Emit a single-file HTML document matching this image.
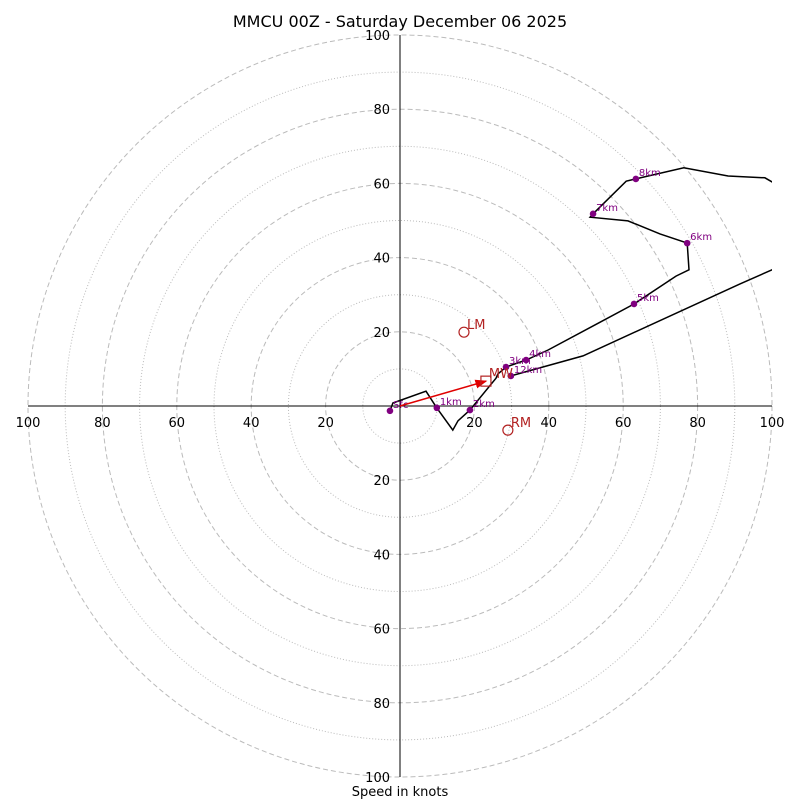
<!DOCTYPE html>
<html><head><meta charset="utf-8"><style>
body{margin:0;background:#fff}
svg{display:block;font-family:"DejaVu Sans","Liberation Sans",sans-serif}
</style></head><body>
<svg id="c" width="800" height="800" viewBox="0 0 800 800">
<defs><clipPath id="clip"><rect x="28" y="35" width="744" height="742"/></clipPath>
<marker id="ah" markerWidth="8" markerHeight="8" refX="7" refY="4" orient="auto"><path d="M0,1 L8,4 L0,7 z" fill="#e00000"/></marker></defs>
<text x="400" y="27" text-anchor="middle" font-size="16">MMCU 00Z - Saturday December 06 2025</text>
<g id="rings"></g><g id="axes"></g>
<g id="plot" clip-path="url(#clip)"></g>
<text x="400" y="796" text-anchor="middle" font-size="13">Speed in knots</text>
</svg>
<script>
const ringValues=[10,20,30,40,50,60,70,80,90,100];
const tickLabels=[20,40,60,80,100];
const hodoU=[-2.7,-1.9,7.0,9.9,14.2,15.6,18.8,25.8,26.3,28.5,33.9,39.8,53.8,62.9,74.2,77.7,77.2,69.9,61.3,51.1,51.9,60.8,63.4,76.3,88.2,98.1,100,108,113,100,91.4,49.2,29.8];
const hodoV=[-1.3,0.8,4.0,-0.5,-6.5,-4.0,-1.1,7.5,8.6,10.5,12.4,15.1,22.6,27.5,35.0,36.7,43.9,46.4,49.9,50.9,51.8,60.6,61.2,64.2,62.0,61.5,60.4,57,44.7,36.7,32.9,13.5,8.1];
const kmLabels=["Sfc","1km","2km","3km","4km","5km","6km","7km","8km","12km"];
const kmU=[-2.7,9.9,18.8,28.5,33.9,62.9,77.2,51.9,63.4,29.8];
const kmV=[-1.3,-0.5,-1.1,10.5,12.4,27.5,43.9,51.8,61.2,8.1];
const motionNames=["LM","MW","RM"];
const motionU=[17.2,23.1,29.0];
const motionV=[19.9,6.7,-6.5];
const NS="http://www.w3.org/2000/svg";
const cx=400,cy=406,sx=3.72,sy=3.71;
const X=u=>cx+u*sx, Y=v=>cy-v*sy;
function mk(tag,attrs,parent,txt){const e=document.createElementNS(NS,tag);for(const k in attrs)e.setAttribute(k,attrs[k]);if(txt!==undefined)e.textContent=txt;parent.appendChild(e);return e;}
const rings=document.getElementById('rings'),axes=document.getElementById('axes'),plot=document.getElementById('plot');
ringValues.forEach(r=>{const e=mk('ellipse',{cx:cx,cy:cy,rx:r*sx,ry:r*sy,fill:'none',stroke:'#bbb','stroke-width':1,'stroke-dasharray':r%20===0?'5,3':'1,2'},rings);

});
let l=mk('line',{x1:28,y1:cy,x2:772,y2:cy,stroke:'#000','stroke-width':1},axes);


l=mk('line',{x1:cx,y1:35,x2:cx,y2:777,stroke:'#000','stroke-width':1},axes);


tickLabels.forEach(t=>{[-1,1].forEach(s=>{
let e=mk('text',{x:X(s*t),y:cy+21,'text-anchor':'middle','font-size':13},axes,String(t));


e=mk('text',{x:cx-10,y:Y(s*t)+5,'text-anchor':'end','font-size':13,fill:'#000'},axes,String(t));

});});
let d=hodoU.map((u,i)=>(i?'L':'M')+X(u).toFixed(1)+','+Y(hodoV[i]).toFixed(1)).join(' ');
let p=mk('path',{d:d,fill:'none',stroke:'#000','stroke-width':1.5},plot);


kmLabels.forEach((n,i)=>{let c=mk('circle',{cx:X(kmU[i]),cy:Y(kmV[i]),r:3.3,fill:'#800080'},plot);


let t=mk('text',{x:X(kmU[i])+3,y:Y(kmV[i])-3,'font-size':10,fill:'#800080'},plot,n);

});
let a=mk('line',{x1:cx,y1:cy,x2:X(motionU[1]),y2:Y(motionV[1]),stroke:'#e00000','stroke-width':1.5,'marker-end':'url(#ah)'},plot);


motionNames.forEach((n,i)=>{const x=X(motionU[i]),y=Y(motionV[i]);let s;
if(n==='MW')s=mk('rect',{x:x-5,y:y-5,width:10,height:10,fill:'none',stroke:'#b22222','stroke-width':1.2},plot);
else s=mk('circle',{cx:x,cy:y,r:5,fill:'none',stroke:'#b22222','stroke-width':1.2},plot);


let t=mk('text',{x:x+3,y:y-3,'font-size':13,fill:'#b22222'},plot,n);

});
</script>
</body></html>
